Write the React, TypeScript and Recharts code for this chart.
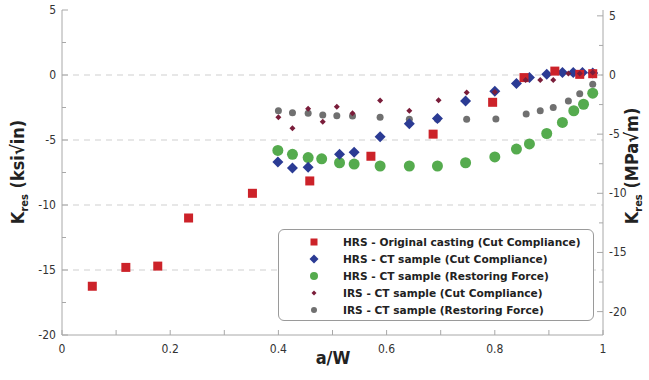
import React from 'react';
import { ScatterChart, Scatter, XAxis, YAxis, ReferenceLine } from 'recharts';

// HRS - Original casting (Cut Compliance)
const hrsCastX = [0.056, 0.118, 0.177, 0.234, 0.352, 0.458, 0.571, 0.686, 0.796, 0.854, 0.911, 0.957, 0.981];
const hrsCastY = [-16.25, -14.8, -14.7, -11.0, -9.1, -8.15, -6.25, -4.55, -2.1, -0.2, 0.3, 0.05, 0.1];

// HRS - CT sample (Cut Compliance)
const hrsCtCcX = [0.399, 0.426, 0.455, 0.513, 0.54, 0.588, 0.642, 0.694, 0.746, 0.8, 0.84, 0.864, 0.896, 0.925, 0.945, 0.962, 0.981];
const hrsCtCcY = [-6.7, -7.15, -7.1, -6.1, -5.95, -4.75, -3.75, -3.35, -2.0, -1.25, -0.65, -0.2, 0.05, 0.2, 0.2, 0.2, 0.15];

// HRS - CT sample (Restoring Force)
const hrsCtRfX = [0.399, 0.426, 0.455, 0.48, 0.513, 0.54, 0.588, 0.642, 0.694, 0.746, 0.8, 0.84, 0.864, 0.896, 0.925, 0.946, 0.964, 0.981];
const hrsCtRfY = [-5.8, -6.1, -6.35, -6.45, -6.75, -6.85, -7.0, -7.0, -7.0, -6.75, -6.3, -5.7, -5.3, -4.5, -3.65, -2.75, -2.25, -1.4];

// IRS - CT sample (Cut Compliance)
const irsCtCcX = [0.4, 0.426, 0.455, 0.482, 0.508, 0.537, 0.588, 0.642, 0.696, 0.748, 0.8, 0.857, 0.884, 0.908, 0.936, 0.957, 0.981];
const irsCtCcY = [-3.25, -4.1, -2.6, -3.6, -2.45, -2.95, -1.97, -2.75, -1.95, -1.35, -1.3, -0.38, -0.38, -0.38, 0.12, 0.12, 0.2];

// IRS - CT sample (Restoring Force)
const irsCtRfX = [0.4, 0.426, 0.455, 0.482, 0.508, 0.537, 0.588, 0.642, 0.694, 0.748, 0.802, 0.858, 0.884, 0.908, 0.936, 0.957, 0.981];
const irsCtRfY = [-2.75, -2.9, -2.95, -3.08, -3.13, -3.15, -3.25, -3.4, -3.4, -3.4, -3.38, -3.0, -2.75, -2.5, -2.0, -1.45, -0.72];

const xTicks = [0, 0.1, 0.2, 0.3, 0.4, 0.5, 0.6, 0.7, 0.8, 0.9, 1];
const yTicks = [-20, -17.5, -15, -12.5, -10, -7.5, -5, -2.5, 0, 2.5, 5];
const gridValues = [0, -5, -10, -15];

const KSI_TO_MPA = 1.0988;

const font = "'DejaVu Sans Condensed', 'DejaVu Sans', sans-serif";
const legendFont = "'DejaVu Sans', sans-serif";
const axisColor = '#a8a8a8';
const labelColor = '#333';

const RED = '#cc2229';
const BLUE = '#2b3b94';
const GREEN = '#55ab4e';
const MAROON = '#7a1d3a';
const GRAY = '#707070';

const zip = (xs: number[], ys: number[]) => xs.map((x, i) => ({ x, y: ys[i] }));

const isMajor = (v: number) => Math.abs(v % 5) < 1e-9;

const LeftTick = (props: any) => {
  const { x, y, payload } = props;
  const v = payload.value;
  const ax = x + 6;
  return (
    <g>
      <line x1={ax} x2={ax + (isMajor(v) ? 6 : 4)} y1={y} y2={y} stroke={axisColor} />
      {isMajor(v) && (
        <text x={x} y={y} dy={4} textAnchor="end" fontSize={12} fontFamily={font} fill={labelColor}>
          {v}
        </text>
      )}
    </g>
  );
};

const RightTick = (props: any) => {
  const { x, y, payload } = props;
  const v = payload.value;
  const ax = x - 6;
  return (
    <g>
      <line x1={ax} x2={ax - (isMajor(v) ? 6 : 4)} y1={y} y2={y} stroke={axisColor} />
      {isMajor(v) && (
        <text x={x} y={y} dy={4} textAnchor="start" fontSize={12} fontFamily={font} fill={labelColor}>
          {v}
        </text>
      )}
    </g>
  );
};

const BottomTick = (props: any) => {
  const { x, y, payload } = props;
  const v = payload.value;
  const ay = y - 6;
  const even = Math.abs(Math.round(v * 10) % 2) === 0;
  return (
    <g>
      <line x1={x} x2={x} y1={ay} y2={ay - 5} stroke={axisColor} />
      {even && (
        <text x={x} y={y} dy={12} textAnchor="middle" fontSize={12} fontFamily={font} fill={labelColor}>
          {v}
        </text>
      )}
    </g>
  );
};

const Square = (props: any) => {
  const { cx, cy, fill } = props;
  return <rect x={cx - 4.5} y={cy - 4.5} width={9} height={9} fill={fill} />;
};
const Diamond = (r: number) => (props: any) => {
  const { cx, cy, fill } = props;
  return <polygon points={`${cx},${cy - r} ${cx + r},${cy} ${cx},${cy + r} ${cx - r},${cy}`} fill={fill} />;
};
const Dot = (r: number) => (props: any) => {
  const { cx, cy, fill } = props;
  return <circle cx={cx} cy={cy} r={r} fill={fill} />;
};

const legendItems = [
  { name: 'HRS - Original casting (Cut Compliance)', color: RED, kind: 'square' },
  { name: 'HRS - CT sample (Cut Compliance)', color: BLUE, kind: 'diamond' },
  { name: 'HRS - CT sample (Restoring Force)', color: GREEN, kind: 'circle' },
  { name: 'IRS - CT sample (Cut Compliance)', color: MAROON, kind: 'smallDiamond' },
  { name: 'IRS - CT sample (Restoring Force)', color: GRAY, kind: 'smallCircle' },
];

const LegendMarker = ({ kind, color }: { kind: string; color: string }) => (
  <svg width={12} height={12} style={{ display: 'block' }}>
    {kind === 'square' && <rect x={2.5} y={2.5} width={7} height={7} fill={color} />}
    {kind === 'diamond' && <polygon points="6,1.5 10.5,6 6,10.5 1.5,6" fill={color} />}
    {kind === 'circle' && <circle cx={6} cy={6} r={4} fill={color} />}
    {kind === 'smallDiamond' && <polygon points="6,3.5 8.5,6 6,8.5 3.5,6" fill={color} />}
    {kind === 'smallCircle' && <circle cx={6} cy={6} r={3} fill={color} />}
  </svg>
);

const LeftLabel = (props: any) => {
  const cy = 172;
  const cx = 24;
  return (
    <text
      x={cx}
      y={cy}
      transform={`rotate(-90, ${cx}, ${cy})`}
      textAnchor="middle"
      fontFamily={font}
      fontWeight="bold"
      fontSize={18}
      fill="#222"
    >
      <tspan>K</tspan>
      <tspan fontSize={11} dy={4}>res</tspan>
      <tspan dy={-4}> (ksi√in)</tspan>
    </text>
  );
};

const RightLabel = (props: any) => {
  const cy = 166;
  const cx = 638;
  return (
    <text
      x={cx}
      y={cy}
      transform={`rotate(-90, ${cx}, ${cy})`}
      textAnchor="middle"
      fontFamily={font}
      fontWeight="bold"
      fontSize={18}
      fill="#222"
    >
      <tspan>K</tspan>
      <tspan fontSize={11} dy={4}>res</tspan>
      <tspan dy={-4}> (MPa√m)</tspan>
    </text>
  );
};

const BottomLabel = (props: any) => (
  <text x={333} y={364} textAnchor="middle" fontFamily={font} fontWeight="bold" fontSize={18} fill="#222">
    a/W
  </text>
);

export default function App() {
  return (
    <div style={{ position: 'absolute', left: 0, top: 0, width: 649, height: 380, background: '#fff' }}>
      <ScatterChart width={649} height={380} margin={{ top: 10, right: 0, left: 0, bottom: 0 }}>
        <XAxis
          type="number"
          dataKey="x"
          domain={[0, 1]}
          ticks={xTicks}
          interval={0}
          height={45}
          tickSize={0}
          tickMargin={6}
          stroke={axisColor}
          tick={<BottomTick />}
          label={<BottomLabel />}
          allowDataOverflow
        />
        <YAxis
          yAxisId="l"
          type="number"
          dataKey="y"
          domain={[-20, 5]}
          ticks={yTicks}
          interval={0}
          width={62}
          tickSize={0}
          tickMargin={6}
          stroke={axisColor}
          tick={<LeftTick />}
          label={<LeftLabel />}
          allowDataOverflow
        />
        <YAxis
          yAxisId="r"
          orientation="right"
          type="number"
          domain={[-20 * KSI_TO_MPA, 5 * KSI_TO_MPA]}
          ticks={yTicks}
          interval={0}
          width={46}
          tickSize={0}
          tickMargin={6}
          stroke={axisColor}
          tick={<RightTick />}
          label={<RightLabel />}
          allowDataOverflow
        />
        {gridValues.map((v) => (
          <ReferenceLine key={v} yAxisId="l" y={v} stroke="#cfcfcf" strokeDasharray="6 5" />
        ))}
        <Scatter yAxisId="l" name="HRS - CT sample (Restoring Force)" data={zip(hrsCtRfX, hrsCtRfY)} fill={GREEN} shape={Dot(5.5)} isAnimationActive={false} />
        <Scatter yAxisId="l" name="IRS - CT sample (Restoring Force)" data={zip(irsCtRfX, irsCtRfY)} fill={GRAY} shape={Dot(3.5)} isAnimationActive={false} />
        <Scatter yAxisId="l" name="HRS - CT sample (Cut Compliance)" data={zip(hrsCtCcX, hrsCtCcY)} fill={BLUE} shape={Diamond(5.5)} isAnimationActive={false} />
        <Scatter yAxisId="l" name="HRS - Original casting (Cut Compliance)" data={zip(hrsCastX, hrsCastY)} fill={RED} shape={Square} isAnimationActive={false} />
        <Scatter yAxisId="l" name="IRS - CT sample (Cut Compliance)" data={zip(irsCtCcX, irsCtCcY)} fill={MAROON} shape={Diamond(3)} isAnimationActive={false} />
      </ScatterChart>
      <div
        style={{
          position: 'absolute',
          left: 278,
          top: 229,
          width: 316,
          height: 92,
          border: '1px solid #9a9a9a',
          borderRadius: 6,
          background: '#fff',
          boxSizing: 'border-box',
          paddingTop: 3,
        }}
      >
        {legendItems.map((it) => (
          <div key={it.name} style={{ display: 'flex', alignItems: 'center', height: 17 }}>
            <div style={{ width: 29, paddingLeft: 29 }}>
              <LegendMarker kind={it.kind} color={it.color} />
            </div>
            <span
              style={{
                fontFamily: legendFont,
                fontWeight: 'bold',
                fontSize: 10.6,
                color: '#222',
                whiteSpace: 'nowrap',
                marginLeft: 6,
              }}
            >
              {it.name}
            </span>
          </div>
        ))}
      </div>
    </div>
  );
}
